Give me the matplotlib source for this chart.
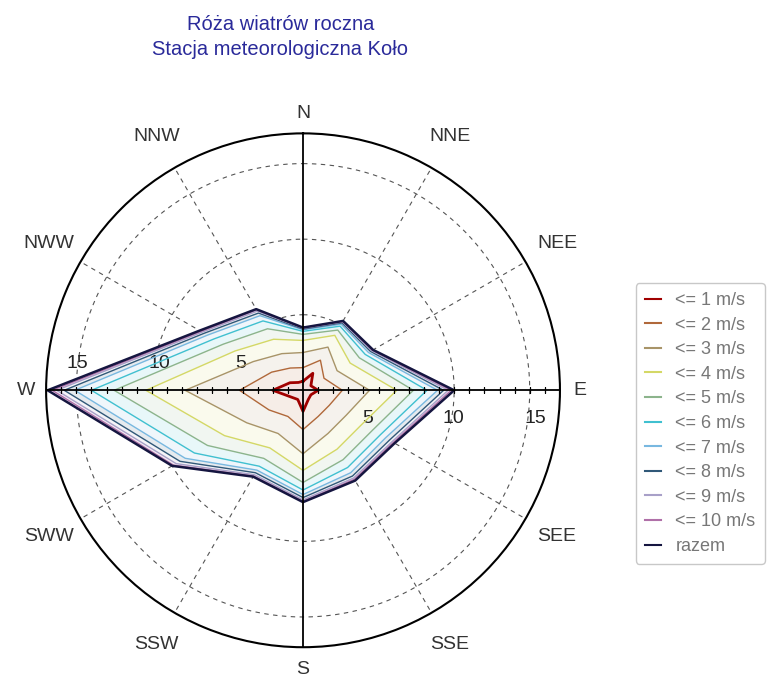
import numpy as np
import matplotlib.pyplot as plt
from matplotlib.colors import to_rgb

# kierunki co 30 stopni, od N zgodnie z ruchem wskazowek zegara
directions = ["N", "NNE", "NEE", "E", "SEE", "SSE", "S", "SSW", "SWW", "W", "NWW", "NNW"]
angles_deg = [0, 30, 60, 90, 120, 150, 180, 210, 240, 270, 300, 330]

# skumulowane czestosci [%] dla kolejnych klas predkosci
le1 = [0.6, 1.3, 0.6, 1.0, 0.6, 0.7, 1.4, 0.7, 0.9, 2.0, 1.0, 0.6]
le2 = [1.5, 2.3, 1.6, 2.6, 2.0, 2.0, 2.6, 2.0, 2.6, 4.2, 2.4, 1.7]
le3 = [2.5, 3.3, 2.6, 4.4, 3.3, 3.3, 4.2, 3.3, 4.3, 7.8, 3.8, 2.8]
le4 = [3.3, 4.2, 3.6, 6.2, 4.5, 4.5, 5.3, 4.4, 6.0, 10.4, 5.2, 3.9]
le5 = [3.7, 4.6, 4.3, 7.3, 5.3, 5.3, 6.1, 5.2, 7.3, 12.5, 6.1, 4.7]
le6 = [3.9, 4.9, 4.75, 8.2, 5.9, 5.9, 6.6, 5.8, 8.3, 14.0, 6.8, 5.3]
le7 = [4.0, 5.05, 5.0, 8.9, 6.3, 6.3, 6.9, 6.1, 9.0, 15.1, 7.3, 5.7]
le8 = [4.05, 5.15, 5.15, 9.3, 6.6, 6.55, 7.1, 6.3, 9.4, 15.8, 7.55, 5.9]
le9 = [4.1, 5.22, 5.25, 9.6, 6.8, 6.7, 7.25, 6.45, 9.7, 16.3, 7.7, 6.05]
le10 = [4.12, 5.26, 5.3, 9.8, 6.9, 6.8, 7.35, 6.55, 9.9, 16.6, 7.8, 6.15]
razem = [4.15, 5.3, 5.35, 10.0, 7.0, 6.9, 7.4, 6.6, 10.0, 16.9, 7.9, 6.2]

series = [le1, le2, le3, le4, le5, le6, le7, le8, le9, le10, razem]
labels = ["<= 1 m/s", "<= 2 m/s", "<= 3 m/s", "<= 4 m/s", "<= 5 m/s",
          "<= 6 m/s", "<= 7 m/s", "<= 8 m/s", "<= 9 m/s", "<= 10 m/s", "razem"]
colors = ["#a00000", "#b0683a", "#a89468", "#d4d866", "#8cb48c",
          "#40c0d0", "#78b8e0", "#305878", "#a8a0c8", "#b070a8", "#151540"]

rmax = 17
rings = [5, 10, 15]

plt.rcParams['font.family'] = ['Liberation Sans', 'DejaVu Sans']

fig = plt.figure(figsize=(7.79, 6.77), dpi=100)
ax = fig.add_axes([0.059, 0.044, 0.660, 0.759], projection='polar')
ax.set_theta_zero_location('N')
ax.set_theta_direction(-1)
ax.set_ylim(0, rmax)
ax.grid(False)
ax.set_xticks([])
ax.set_yticks([])
ax.spines['polar'].set_color('black')
ax.spines['polar'].set_linewidth(1.5)

theta = np.deg2rad(angles_deg + [angles_deg[0]])

# siatka: przerywane okregi i promienie
circ = np.linspace(0, 2 * np.pi, 361)
for r in rings:
    ax.plot(circ, [r] * len(circ), color='#555555', lw=0.8, ls=(0, (4, 4)), zorder=1)
for a in angles_deg:
    if a % 90 != 0:
        ax.plot([np.deg2rad(a)] * 2, [0, rmax], color='#555555', lw=0.8, ls=(0, (4, 4)), zorder=1)

# opisy promieni (pod liniami danych)
up_dx = [13, 7, 1]
low_dx = [-11, -1, 6]
for r, dxu, dxl in zip(rings, up_dx, low_dx):
    ax.annotate(str(r), xy=(np.deg2rad(270), r), xytext=(dxu, 27), textcoords='offset pixels',
                ha='center', va='center', fontsize=14, color='#222222', zorder=4)
    ax.annotate(str(r), xy=(np.deg2rad(90), r), xytext=(dxl, -28), textcoords='offset pixels',
                ha='center', va='center', fontsize=14, color='#222222', zorder=4)

# wypelnienia i linie
for vals, col in reversed(list(zip(series, colors))):
    rr = vals + [vals[0]]
    fc = np.array(to_rgb(col)) * 0.12 + 0.88
    if col == colors[-1]:
        fc = np.array([0.94, 0.92, 0.98])
    ax.fill(theta, rr, color=fc, lw=0, zorder=3)
for vals, col, lab in zip(series, colors, labels):
    rr = vals + [vals[0]]
    lw = 1.8 if lab == "razem" else (2.0 if lab == "<= 1 m/s" else 1.0)
    ax.plot(theta, rr, color=col, lw=lw, label=lab, zorder=5)

# osie glowne
for a in [0, 90, 180, 270]:
    ax.plot([np.deg2rad(a)] * 2, [0, rmax], color='black', lw=1.3, zorder=6)
ticks_r = np.arange(1, rmax)
for a in [90, 270]:
    ax.plot([np.deg2rad(a)] * len(ticks_r), ticks_r, ls='none', marker='|', ms=4,
            mew=0.9, color='black', zorder=6)

# nazwy kierunkow
for a, name in zip(angles_deg, directions):
    if a % 90 != 0:
        rlab = 19.4
    elif a == 180:
        rlab = 18.5
    else:
        rlab = 18.3
    ax.text(np.deg2rad(a), rlab, name, ha='center', va='center', fontsize=14,
            color='#333333', clip_on=False)

fig.text(0.36, 0.964, "Róża wiatrów roczna", ha='center', va='center', fontsize=14.5, color='#2a2a9a')
fig.text(0.36, 0.927, "Stacja meteorologiczna Koło", ha='center', va='center', fontsize=14.5, color='#2a2a9a')

handles, labs = ax.get_legend_handles_labels()
leg = fig.legend(handles, labs, loc='upper left', bbox_to_anchor=(0.816, 0.582),
                 fontsize=13, handlelength=0.9, labelspacing=0.42, frameon=True,
                 fancybox=True, edgecolor='#bbbbbb', borderpad=0.5, handletextpad=0.8,
                 borderaxespad=0)
for t in leg.get_texts():
    t.set_color('#777777')
for h in leg.get_lines():
    h.set_linewidth(1.5)

fig.savefig("out.png", dpi=100)
